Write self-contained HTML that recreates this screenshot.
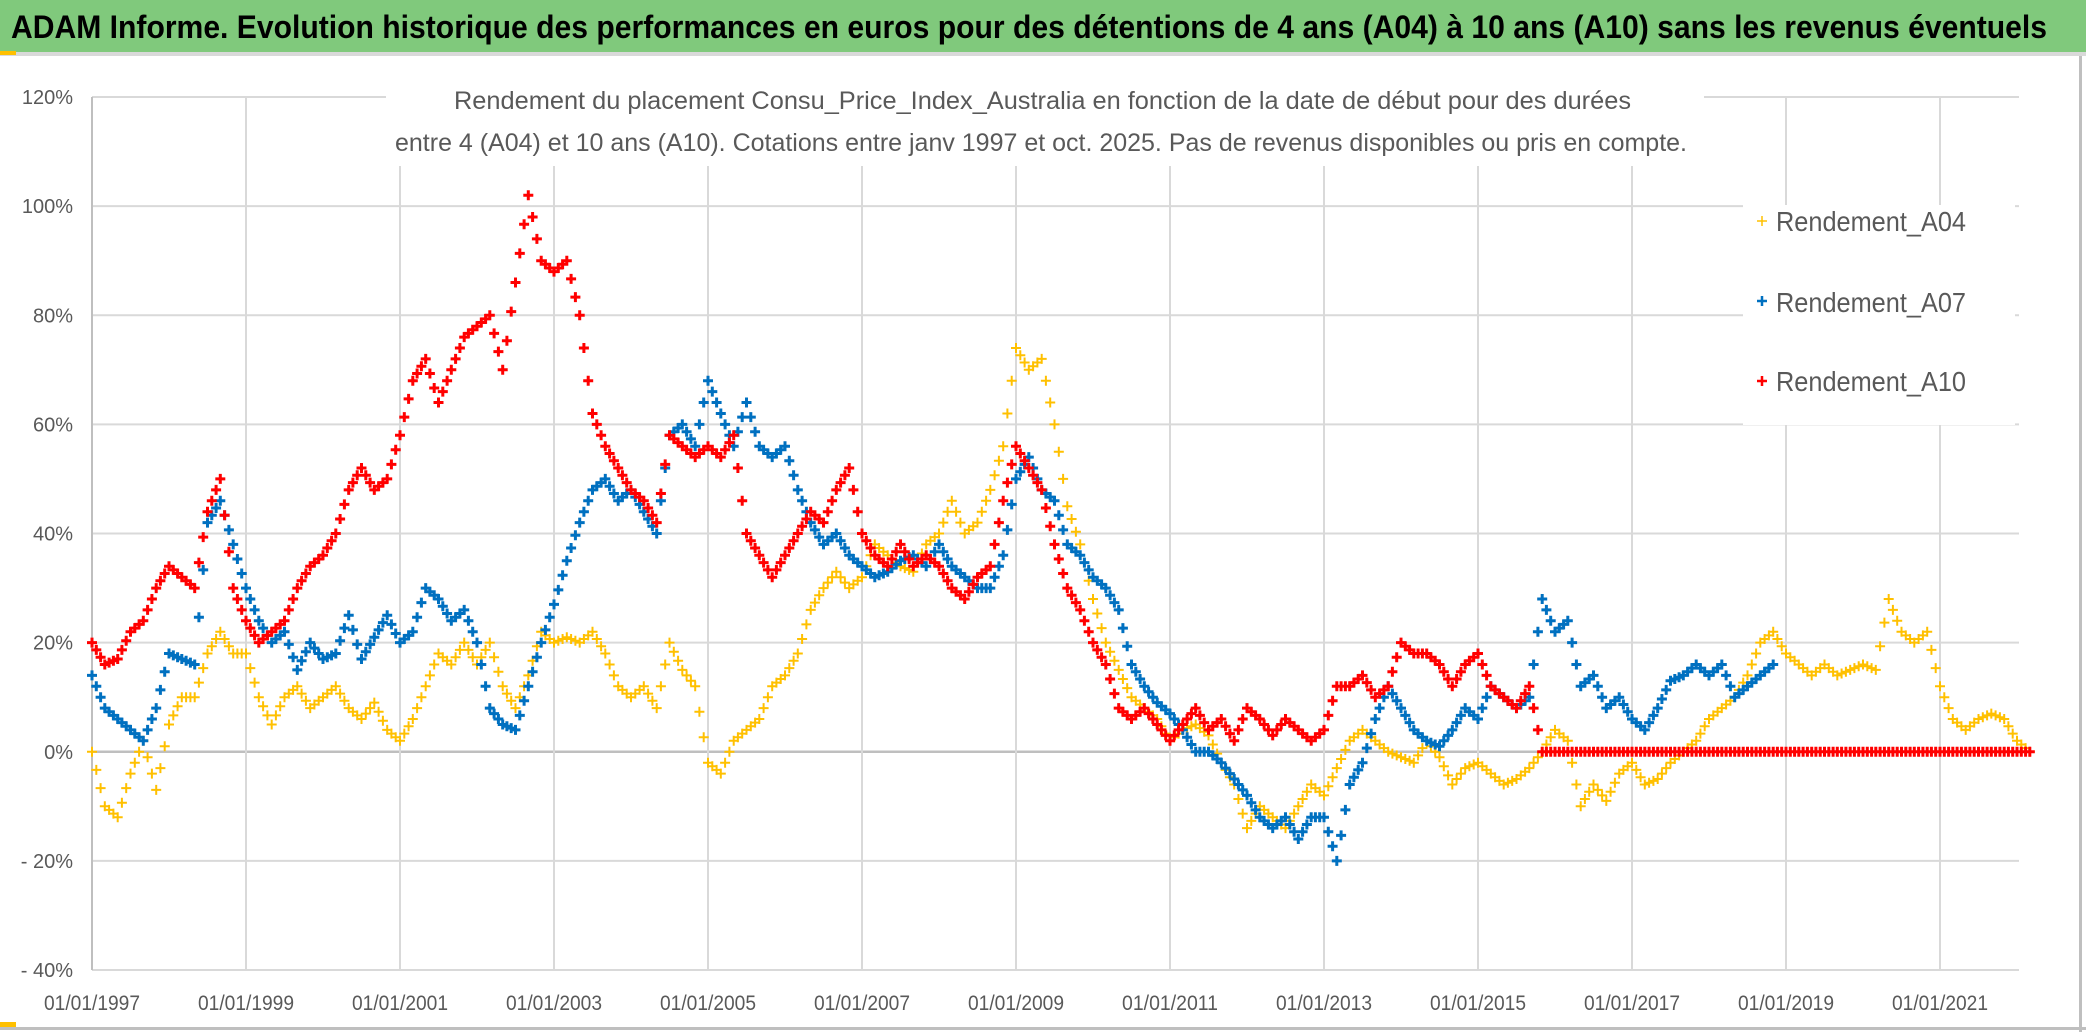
<!DOCTYPE html>
<html><head><meta charset="utf-8">
<style>
html,body{margin:0;padding:0;background:#fff;}
svg{display:block;font-family:"Liberation Sans Narrow","Liberation Sans",sans-serif;}
</style></head>
<body>
<svg id="chart" width="2086" height="1032" viewBox="0 0 2086 1032" xmlns="http://www.w3.org/2000/svg">
  <rect x="0" y="0" width="2086" height="1032" fill="#fff"/>
  <rect x="0" y="0" width="2086" height="52" fill="#80C97C"/>
  <rect x="0" y="52" width="2086" height="4" fill="#d9d9d9"/>
  <rect x="0" y="51" width="16" height="4" fill="#FFC000"/>
  <rect x="2079" y="56" width="3" height="976" fill="#bfbfbf"/>
  <rect x="0" y="1027" width="2086" height="3" fill="#bfbfbf"/>
  <rect x="0" y="1022" width="16" height="5" fill="#FFC000"/>
  <text x="11" y="38" font-size="32" font-weight="bold" fill="#000" textLength="2036" lengthAdjust="spacingAndGlyphs">ADAM Informe. Evolution historique des performances en euros pour des détentions de 4 ans (A04) à 10 ans (A10) sans les revenus éventuels</text>
  <g id="grid"></g>
  <g id="yticks"></g>
  <g id="xticks"></g>
  <rect x="386" y="80" width="1318" height="86" fill="#fff"/>
  <text x="454" y="109" font-size="25" fill="#595959" textLength="1177" lengthAdjust="spacingAndGlyphs">Rendement du placement Consu_Price_Index_Australia en fonction de la date de début pour des durées</text>
  <text x="395" y="151" font-size="25" fill="#595959" textLength="1292" lengthAdjust="spacingAndGlyphs">entre 4 (A04) et 10 ans (A10). Cotations entre janv 1997 et oct. 2025. Pas de revenus disponibles ou pris en compte.</text>
  <g id="series"></g>
  <g>
    <rect x="1743" y="205" width="272" height="220" fill="#fff"/>
    <g>
      <path d="M1757 221h10M1762 216v10" stroke="#FFC000" stroke-width="1.5"/>
      <text x="1776" y="231" font-size="28" fill="#595959" textLength="190" lengthAdjust="spacingAndGlyphs">Rendement_A04</text>
    </g>
    <g>
      <path d="M1757 301h10M1762 296v10" stroke="#0070C0" stroke-width="2.5"/>
      <text x="1776" y="312" font-size="28" fill="#595959" textLength="190" lengthAdjust="spacingAndGlyphs">Rendement_A07</text>
    </g>
    <g>
      <path d="M1757 381h10M1762 376v10" stroke="#FF0000" stroke-width="2.5"/>
      <text x="1776" y="391" font-size="28" fill="#595959" textLength="190" lengthAdjust="spacingAndGlyphs">Rendement_A10</text>
    </g>
  </g>
</svg>
<script>
// ---- data (bimonthly samples starting Jan 1997) ----
const startYear = 1997;
const stepYears = 1/6;
const yTicks = [120,100,80,60,40,20,0,-20,-40];
const yTickLabels = ["120%","100%","80%","60%","40%","20%","0%","- 20%","- 40%"];
const xTickYears = [1997,1999,2001,2003,2005,2007,2009,2011,2013,2015,2017,2019,2021];
const xTickLabels = ["01/01/1997","01/01/1999","01/01/2001","01/01/2003","01/01/2005","01/01/2007","01/01/2009","01/01/2011","01/01/2013","01/01/2015","01/01/2017","01/01/2019","01/01/2021"];
const rendementA04 = [
 0,-10,-12,-4,2,-7, 5,10,10,18,22,18, 18,10,5,10,12,8, 10,12,8,6,9,4,
 2,6,12,18,16,20, 16,20,12,8,14,22, 20,21,20,22,18,12, 10,12,8,20,15,12,
 -2,-4,2,4,6,12, 14,18,26,30,33,30, 32,38,36,34,33,38, 40,46,40,42,48,56,
 74,70,72,60,45,38, 28,20,15,10,8,6, 2,4,5,3,-2,-6, -14,-10,-12,-14,-10,-6,
 -8,-3,2,4,2,0, -1,-2,2,-1,-6,-3, -2,-4,-6,-5,-3,0, 4,2,-10,-6,-9,-4,
 -2,-6,-5,-2,0,2, 6,8,10,14,20,22, 18,16,14,16,14,15, 16,15,28,22,20,22,
 12,6,4,6,7,6, 2,0];
const rendementA07 = [
 14,8,6,4,2,8, 18,17,16,42,46,38, 30,24,20,22,15,20, 17,18,25,17,21,25,
 20,22,30,28,24,26, 20,8,5,4,12,20, 27,35,42,48,50,46, 48,44,40,58,60,56,
 68,62,56,64,56,54, 56,48,42,38,40,36, 34,32,33,35,36,34, 38,34,32,30,30,36,
 50,54,48,46,38,36, 32,30,26,16,12,9, 7,4,0,0,-2,-5, -8,-12,-14,-12,-16,-12,
 -12,-20,-6,-2,6,12, 8,4,2,1,4,8, 6,12,10,8,10,28, 22,24,12,14,8,10,
 6,4,8,13,14,16, 14,16,10,12,14,16];
const rendementA10 = [
 20,16,17,22,24,30, 34,32,30,44,50,30, 24,20,22,24,30,34, 36,40,48,52,48,50,
 58,68,72,64,70,76, 78,80,70,86,102,90, 88,90,80,62,56,52, 48,46,42,58,56,54,
 56,54,58,40,36,32, 36,40,44,42,48,52, 40,36,34,38,34,36, 34,30,28,32,34,46,
 56,52,48,38,30,26, 20,16,8,6,8,5, 2,5,8,4,6,2, 8,6,3,6,4,2,
 4,12,12,14,10,12, 20,18,18,16,12,16, 18,12,10,8,12,0, 0,0,0,0,0,0,
 0,0,0,0,0,0, 0,0,0,0,0,0, 0,0,0,0,0,0, 0,0,0,0,0,0, 0,0,0,0,0,0, 0,0];

// ---- scales ----
const X0 = 92, PX_PER_YEAR = 77;
const Y_TOP = 97, Y_BOTTOM = 970, YMAX = 120, YMIN = -40;
const PLOT_RIGHT = 2019;
function xScale(year){ return X0 + (year - startYear) * PX_PER_YEAR; }
function yScale(v){ return Y_TOP + (YMAX - v) / (YMAX - YMIN) * (Y_BOTTOM - Y_TOP); }

const NS = "http://www.w3.org/2000/svg";
const grid = document.getElementById("grid");
const yt = document.getElementById("yticks");
const xt = document.getElementById("xticks");

yTicks.forEach((v, i) => {
  const y = yScale(v);
  const l = document.createElementNS(NS, "line");
  
  
  l.setAttribute("x1", X0); l.setAttribute("x2", PLOT_RIGHT);
  l.setAttribute("y1", y); l.setAttribute("y2", y);
  l.setAttribute("stroke", v === 0 ? "#bfbfbf" : "#d9d9d9");
  l.setAttribute("stroke-width", v === 0 ? 2.5 : 2);
  grid.appendChild(l);
  const t = document.createElementNS(NS, "text");
  
  
  t.setAttribute("x", 73); t.setAttribute("y", y + 7);
  t.setAttribute("text-anchor", "end");
  t.setAttribute("font-size", "20");
  t.setAttribute("fill", "#595959");
  t.textContent = yTickLabels[i];
  yt.appendChild(t);
});
xTickYears.forEach((yr, i) => {
  const x = xScale(yr);
  const l = document.createElementNS(NS, "line");
  
  
  l.setAttribute("x1", x); l.setAttribute("x2", x);
  l.setAttribute("y1", Y_TOP); l.setAttribute("y2", Y_BOTTOM);
  l.setAttribute("stroke", i === 0 ? "#bfbfbf" : "#d9d9d9");
  l.setAttribute("stroke-width", 2);
  grid.appendChild(l);
  const t = document.createElementNS(NS, "text");
  
  
  t.setAttribute("x", x); t.setAttribute("y", 1010);
  t.setAttribute("text-anchor", "middle");
  t.setAttribute("font-size", "21");
  t.setAttribute("fill", "#595959");
  t.setAttribute("textLength", "96");
  t.setAttribute("lengthAdjust", "spacingAndGlyphs");
  t.textContent = xTickLabels[i];
  xt.appendChild(t);
});

const seriesG = document.getElementById("series");
function drawSeries(values, color, width, name){
  const g = document.createElementNS(NS, "g");
  
  
  let d = "";
  const arm = 5;
  for (let i = 0; i < values.length; i++) {
    const sub = (i < values.length - 1) ? 3 : 1;
    for (let k = 0; k < sub; k++) {
      const f = k / 3;
      const v = (k === 0) ? values[i] : values[i] + (values[i+1] - values[i]) * f;
      const x = xScale(startYear + (i + f) * stepYears);
      const y = yScale(v);
      d += "M" + (x-arm).toFixed(1) + " " + y.toFixed(1) + "h" + (2*arm) +
           "M" + x.toFixed(1) + " " + (y-arm).toFixed(1) + "v" + (2*arm);
    }
  }
  const p = document.createElementNS(NS, "path");
  
  
  p.setAttribute("d", d);
  p.setAttribute("stroke", color);
  p.setAttribute("stroke-width", width);
  p.setAttribute("fill", "none");
  g.appendChild(p);
  seriesG.appendChild(g);
}
drawSeries(rendementA04, "#FFC000", 2, "series-rendement-a04");
drawSeries(rendementA07, "#0070C0", 3, "series-rendement-a07");
drawSeries(rendementA10, "#FF0000", 3, "series-rendement-a10");
</script>
</body></html>
